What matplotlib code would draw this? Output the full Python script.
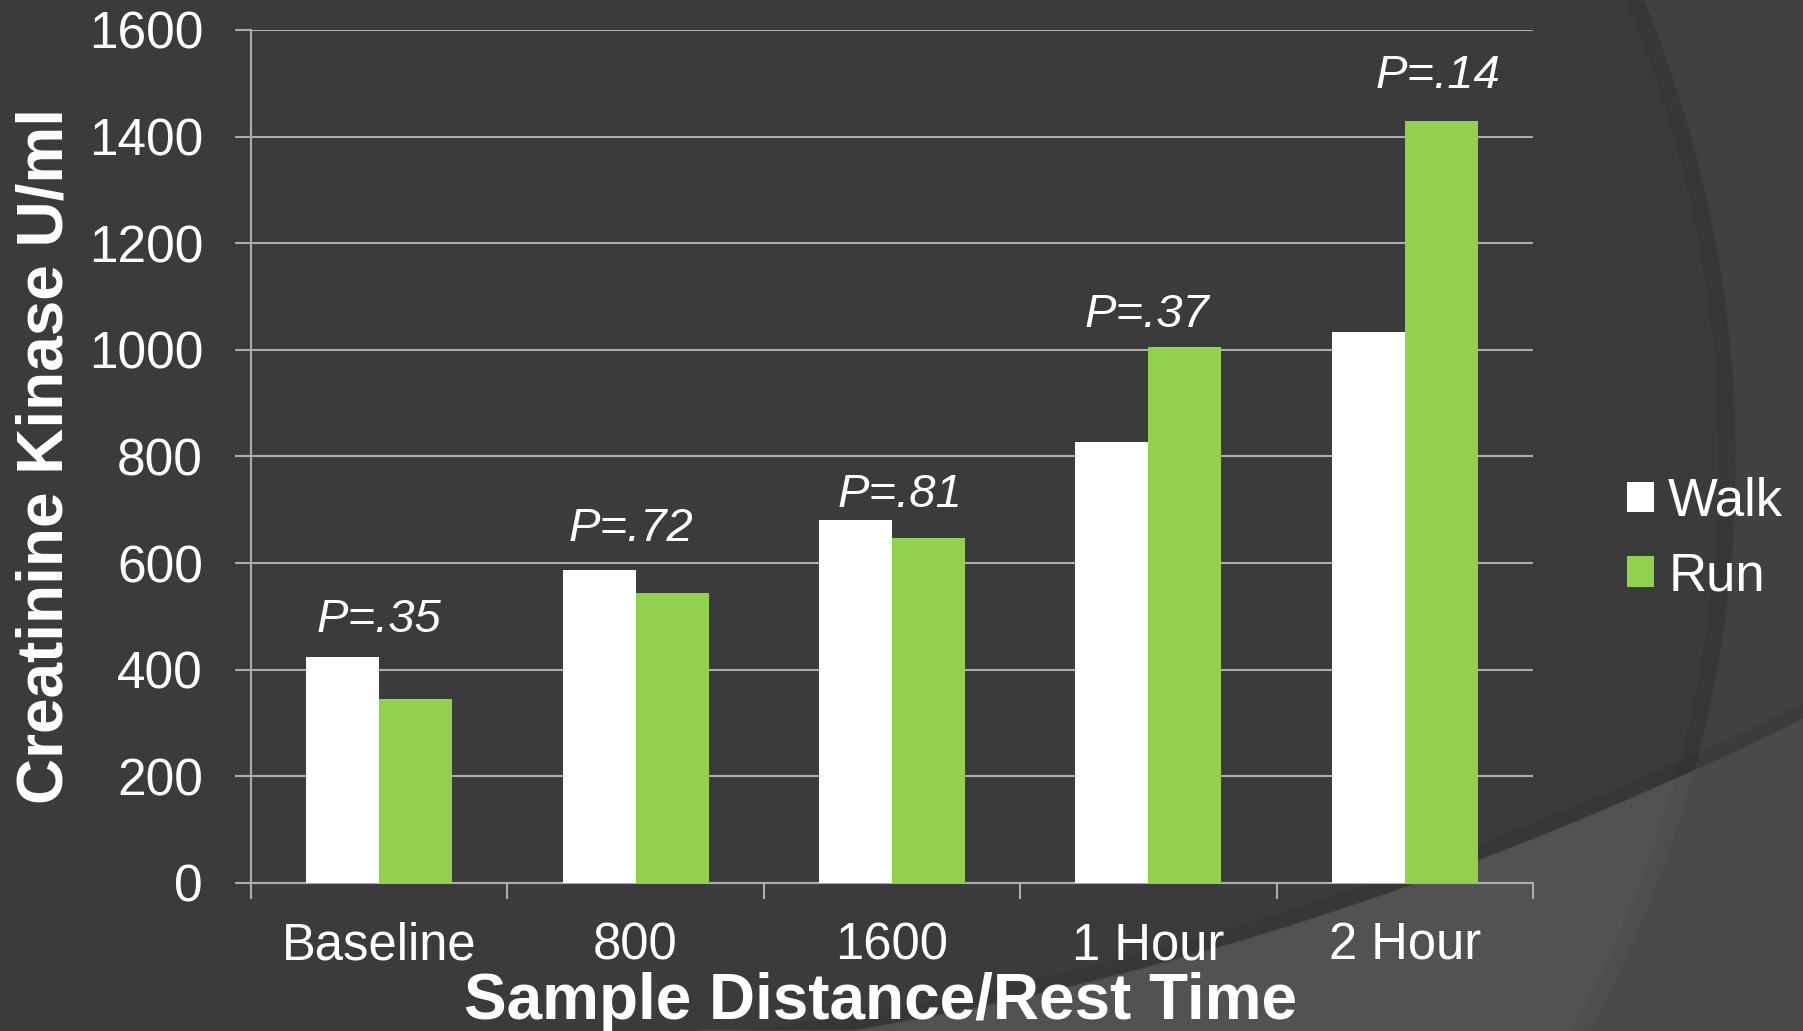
import numpy as np
import matplotlib
matplotlib.use("Agg")
import matplotlib.pyplot as plt
from matplotlib import font_manager
from matplotlib.patches import Rectangle, Circle, Polygon

categories = ["Baseline", "800", "1600", "1 Hour", "2 Hour"]
walk = [423, 588, 681, 828, 1033]
run = [345, 544, 647, 1005, 1429]
p_labels = ["P=.35", "P=.72", "P=.81", "P=.37", "P=.14"]
# where each p-value sits (x offset from group centre, y in data units)
p_dx = [0.0, -0.02, 0.03, -0.005, 0.13]
p_y = [470, 641, 706, 1043, 1491]

GREEN = "#92d050"
GRID = "#adadad"

installed = {f.name for f in font_manager.fontManager.ttflist}
def pick(*names):
    for n in names:
        if n in installed:
            return n
    return "DejaVu Sans"

SANS = pick("Liberation Sans", "Arial")
NARROW = pick("Liberation Sans Narrow", "Arial Narrow", "Liberation Sans")

W, H = 1803, 1031
fig = plt.figure(figsize=(W / 100, H / 100), dpi=100)

# slide background: dark base, large arc and lighter lower swoosh
bg = fig.add_axes([0, 0, 1, 1], zorder=-5)
bg.set_xlim(0, W)
bg.set_ylim(H, 0)
bg.axis("off")
bg.add_patch(Rectangle((0, 0), W, H, color="#414141"))
circ = Circle((539, 460), 1196, color="#3b3b3b")
bg.add_patch(circ)

px = np.array([845, 1150, 1416, 1479, 1700, 1803])
py = np.array([1031, 970, 883, 858, 768, 720])
coef = np.polyfit(px, py, 2)
cx = np.linspace(700, W, 300)
cy = np.polyval(coef, cx)
lower = list(zip(cx, cy)) + [(W, H), (700, H)]
bg.add_patch(Polygon(lower, color="#4a4a4a"))
inner = Polygon(lower, color="#525252")
bg.add_patch(inner)
inner.set_clip_path(circ)

# soft shadows along the arc and the swoosh edge
for i in range(14):
    bg.add_patch(Circle((539, 460), 1196 - 1.2 * i, fill=False,
                        edgecolor="black", lw=1.5, alpha=0.025))
    bg.plot(cx, cy - 1.2 * i, color="black", lw=1.5, alpha=0.03)

ax = fig.add_axes([251 / W, 1 - 883 / H, 1282 / W, 853 / H])
ax.patch.set_alpha(0)

x = np.arange(len(categories))
bw = 0.285
ax.bar(x - bw / 2, walk, bw, color="white", label="Walk", zorder=3)
ax.bar(x + bw / 2, run, bw, color=GREEN, label="Run", zorder=3)

for i, t in enumerate(p_labels):
    ax.text(x[i] + p_dx[i], p_y[i], t, ha="center", va="baseline",
            fontsize=34, style="italic", color="white", family=NARROW)

ax.set_xlim(-0.5, len(categories) - 0.5)
ax.set_ylim(0, 1600)
ax.set_yticks(np.arange(0, 1601, 200))
ax.yaxis.grid(True, color=GRID, lw=1.5)
ax.set_axisbelow(True)

ax.set_xticks(x)
ax.set_xticklabels(categories, family=NARROW, fontsize=36.5, color="white")
ax.set_xticks(np.arange(-0.5, len(categories), 1), minor=True)
ax.tick_params(axis="x", which="major", length=0, pad=28)
ax.tick_params(axis="x", which="minor", length=11.5, width=1.5,
               color=GRID, direction="out")
ax.tick_params(axis="y", length=11.5, width=1.5, color=GRID, pad=23,
               labelsize=37, labelcolor="white")
for lab in ax.get_yticklabels():
    lab.set_family(SANS)

for s in ["top", "right"]:
    ax.spines[s].set_visible(False)
for s in ["left", "bottom"]:
    ax.spines[s].set_color(GRID)
    ax.spines[s].set_linewidth(1.5)

fig.text(880 / W, 1 - 1019 / H, "Sample Distance/Rest Time", ha="center",
         va="baseline", fontsize=46, weight="bold", color="white", family=SANS)
fig.text(46 / W, 1 - 456 / H, "Creatinine Kinase U/ml", rotation=90,
         ha="center", va="center", fontsize=46, weight="bold",
         color="white", family=NARROW)

leg = ax.legend(loc="center left", bbox_to_anchor=(1627 / W, 1 - 539 / H),
                bbox_transform=fig.transFigure, frameon=False,
                prop={"family": SANS, "size": 38}, labelcolor="white",
                handlelength=0.51, handleheight=0.51, handletextpad=0.27,
                labelspacing=0.47, borderpad=0, borderaxespad=0)

fig.savefig("out.png", dpi=100, facecolor="#3b3b3b")
